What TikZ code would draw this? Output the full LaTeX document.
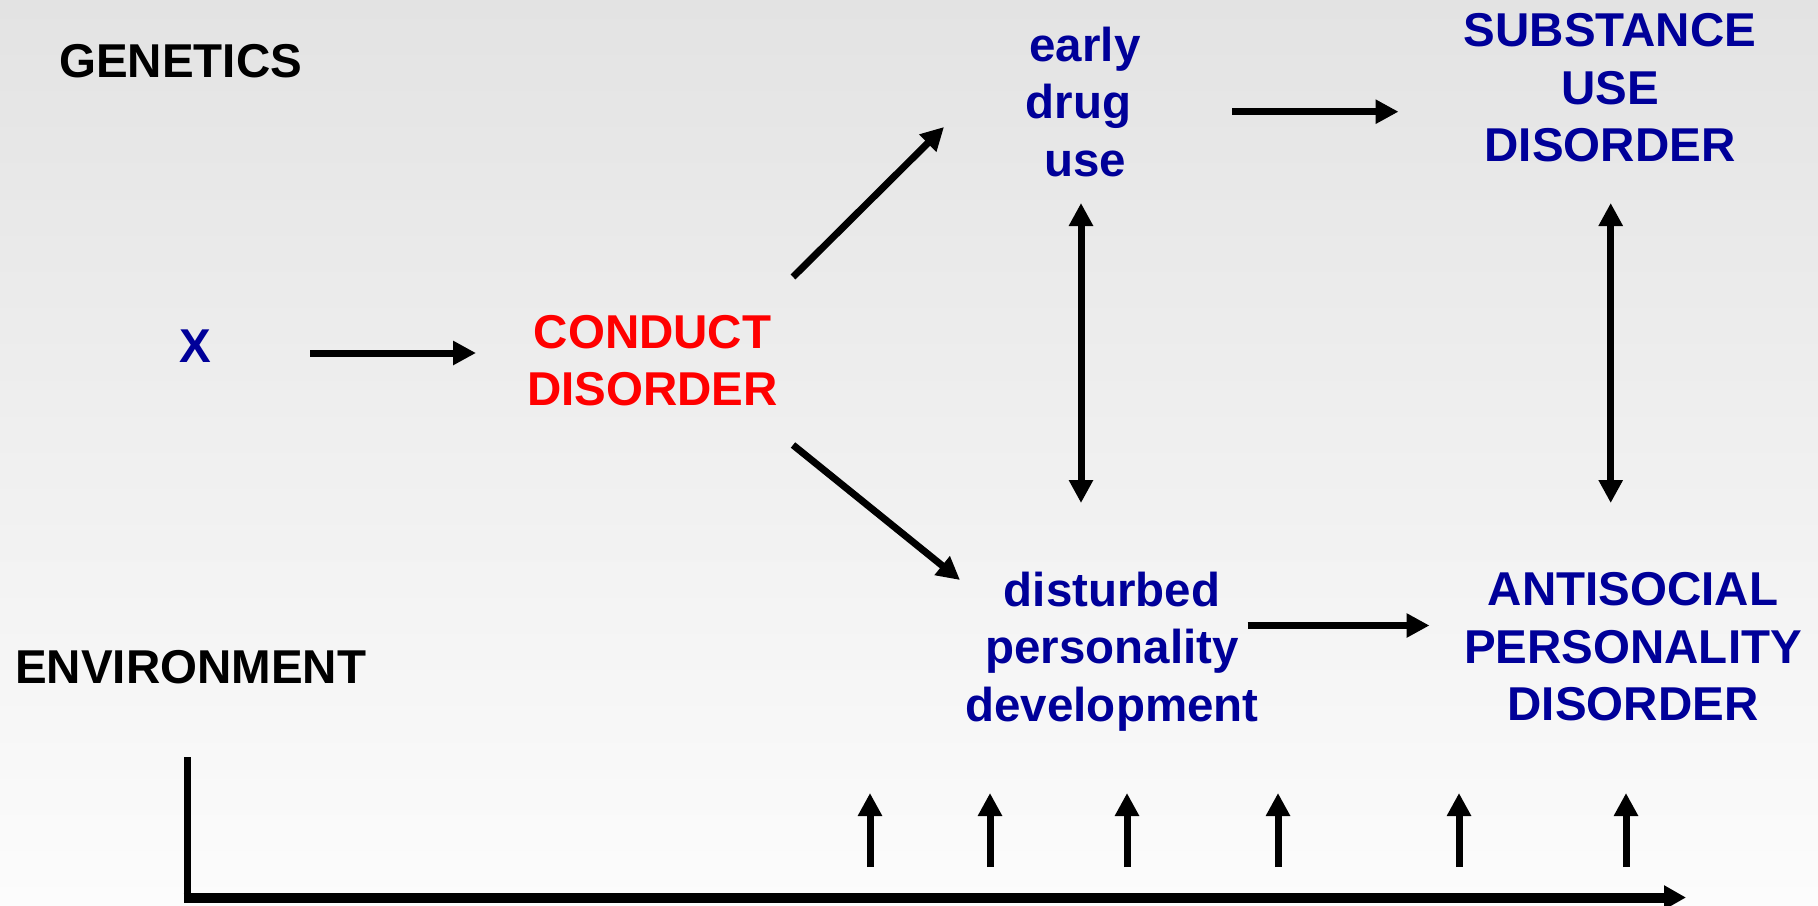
\documentclass[tikz,border=0pt]{standalone}
\usepackage{fontspec}
\setmainfont{Liberation Sans}
\usetikzlibrary{arrows.meta}
\definecolor{navyblue}{RGB}{0,0,153}
\definecolor{bgtop}{RGB}{227,227,227}
\definecolor{bgbot}{RGB}{252,252,252}
\begin{document}
\begin{tikzpicture}[x=1pt,y=-1pt,
  lbl/.style={font=\fontsize{47.5}{57.5}\selectfont\bfseries, inner sep=0pt, align=center},
  arr/.style={line width=7pt, -{Triangle[length=23pt,width=23pt]}},
  darr/.style={line width=7pt, {Triangle[length=23pt,width=23pt]}-{Triangle[length=23pt,width=23pt]}},
]
\shade[top color=bgtop, bottom color=bgbot] (0,0) rectangle (1818,905);
\useasboundingbox (0,0) rectangle (1818,905);

\node[lbl, anchor=base west] (gen) at (59,77) {GENETICS};
\node[lbl, anchor=base west] (env) at (15,683) {ENVIRONMENT};
\node[lbl, text=navyblue] (x) at (195,346.5) {X};
\node[lbl, text=red] (cd) at (652.5,360.5) {CONDUCT\\DISORDER};
\node[lbl, text=navyblue] (edu) at (1085,102) {early\\drug\rule{0.278em}{0pt}\\use};
\node[lbl, text=navyblue] (sud) at (1610,88) {SUBSTANCE\\USE\\DISORDER};
\node[lbl, text=navyblue] (dpd) at (1112,651.5) {disturbed\\personality\\development};
\node[lbl, text=navyblue] (apd) at (1633,647) {ANTISOCIAL\\PERSONALITY\\DISORDER};

\draw[arr] ([shift={(115,6.5)}]x.center) -- ([shift={(-176.5,-7.5)}]cd.center);
\draw[arr] ([shift={(140.5,-83.5)}]cd.center) -- ([shift={(-141,25)}]edu.center);
\draw[arr] ([shift={(140.5,84.5)}]cd.center) -- ([shift={(-152,-71.5)}]dpd.center);
\draw[arr] ([shift={(147,9.7)}]edu.center) -- ([shift={(-211.5,23.7)}]sud.center);
\draw[darr] ([shift={(-4,101)}]edu.center) -- ([shift={(-31,-148.5)}]dpd.center);
\draw[darr] ([shift={(0.7,115)}]sud.center) -- ([shift={(-22.3,-144)}]apd.center);
\draw[arr] ([shift={(135.5,-26)}]dpd.center) -- ([shift={(-203.5,-21.5)}]apd.center);

\coordinate (lstart) at (187,757);
\coordinate (lcorner) at (187,897.5);
\coordinate (lend) at (1686,897.5);
\draw[line width=7pt] (lstart) -- ([yshift=-5pt]lcorner);
\draw[line width=10pt, -{Triangle[length=22pt,width=23pt]}] ([xshift=-3.5pt]lcorner) -- (lend);

\foreach \sx [count=\i] in {870,990,1127,1278,1459,1626} {
  \coordinate (sb\i) at (\sx,867);
  \coordinate (st\i) at (\sx,793);
  \draw[arr] (sb\i) -- (st\i);
}
\end{tikzpicture}
\end{document}
